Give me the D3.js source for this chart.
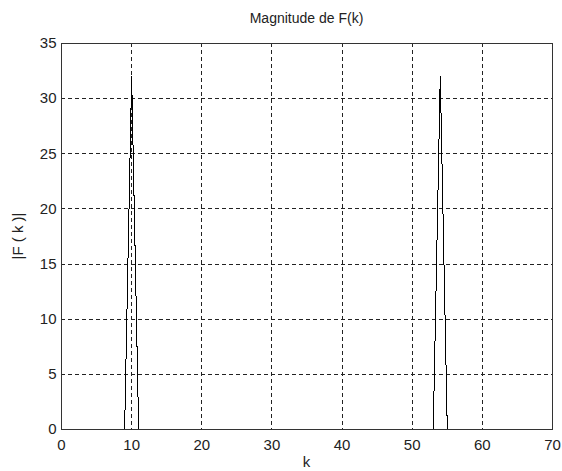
<!DOCTYPE html>
<html>
<head>
<meta charset="utf-8">
<script src="https://cdn.jsdelivr.net/npm/d3@7"></script>
<style>
	body { margin: 0; background: #fff; }
	text { font-family: "Liberation Sans", Arial, sans-serif; fill: #222; }
</style>
</head>
<body>
<svg id="chart" width="562" height="471"></svg>
<script>
// 64 point DFT magnitude, peaks at k = 10 and k = 54
var kValues = d3.range(0, 64);
var peakBins = [10, 54];
var peakHeights = [32, 32];
var magnitudes = kValues.map(function(k) {
	var i = peakBins.indexOf(k);
	return i < 0 ? 0 : peakHeights[i];
});
var xTicks = [0, 10, 20, 30, 40, 50, 60, 70];
var yTicks = [0, 5, 10, 15, 20, 25, 30, 35];

var plotLeft = 61, plotRight = 552, plotTop = 43, plotBottom = 429;
var svg = d3.select("#chart");
var x = d3.scaleLinear().domain([0, 70]).range([plotLeft, plotRight]);
var y = d3.scaleLinear().domain([0, 35]).range([plotBottom, plotTop]);

// grid
var grid = svg.append("g").attr("stroke", "#222").attr("stroke-width", 1)
		.attr("stroke-dasharray", "4,3").attr("shape-rendering", "crispEdges");
grid.selectAll(".gx").data(xTicks.slice(1, -1)).enter().append("line")
		.attr("x1", function(d) { return Math.round(x(d)) + 0.5; })
		.attr("x2", function(d) { return Math.round(x(d)) + 0.5; })
		.attr("y1", plotTop).attr("y2", plotBottom);
grid.selectAll(".gy").data(yTicks.slice(1, -1)).enter().append("line")
		.attr("y1", function(d) { return Math.round(y(d)) + 0.5; })
		.attr("y2", function(d) { return Math.round(y(d)) + 0.5; })
		.attr("x1", plotLeft).attr("x2", plotRight);

// data line (aliased, like the old matlab renderer)
svg.append("path").datum(kValues)
		.attr("fill", "none").attr("stroke", "#000").attr("stroke-width", 1)
		.attr("shape-rendering", "crispEdges")
		.attr("d", d3.line()
			.x(function(k) { return x(k) + 0.5; })
			.y(function(k) { return y(magnitudes[k]); }));

// box
svg.append("rect").attr("x", plotLeft + 0.5).attr("y", plotTop + 0.5)
		.attr("width", plotRight - plotLeft).attr("height", plotBottom - plotTop)
		.attr("fill", "none").attr("stroke", "#333").attr("shape-rendering", "crispEdges");

// axes, labels only
var xAxis = svg.append("g").attr("transform", "translate(0," + (plotBottom + 0.5) + ")")
		.call(d3.axisBottom(x).tickValues(xTicks).tickSize(0).tickPadding(10).tickFormat(d3.format("d")));
var yAxis = svg.append("g").attr("transform", "translate(" + (plotLeft + 0.5) + ",0)")
		.call(d3.axisLeft(y).tickValues(yTicks).tickSize(0).tickPadding(5).tickFormat(d3.format("d")));
[xAxis, yAxis].forEach(function(a) {
	a.select(".domain").remove();
	a.selectAll("text").style("font-size", "15px").attr("fill", "#222")
			.style("font-family", "'Liberation Sans', Arial, sans-serif");
});
yAxis.selectAll("text").attr("dy", "0.32em");

svg.append("text").attr("x", x(35)).attr("y", 23).attr("text-anchor", "middle")
		.style("font-size", "14px").text("Magnitude de F(k)");
svg.append("text").attr("x", x(35)).attr("y", 467).attr("text-anchor", "middle")
		.style("font-size", "15px").text("k");
svg.append("text").attr("transform", "translate(23," + y(17.5) + ") rotate(-90)")
		.attr("text-anchor", "middle").style("font-size", "15px").text("|F ( k )|");
</script>
</body>
</html>
